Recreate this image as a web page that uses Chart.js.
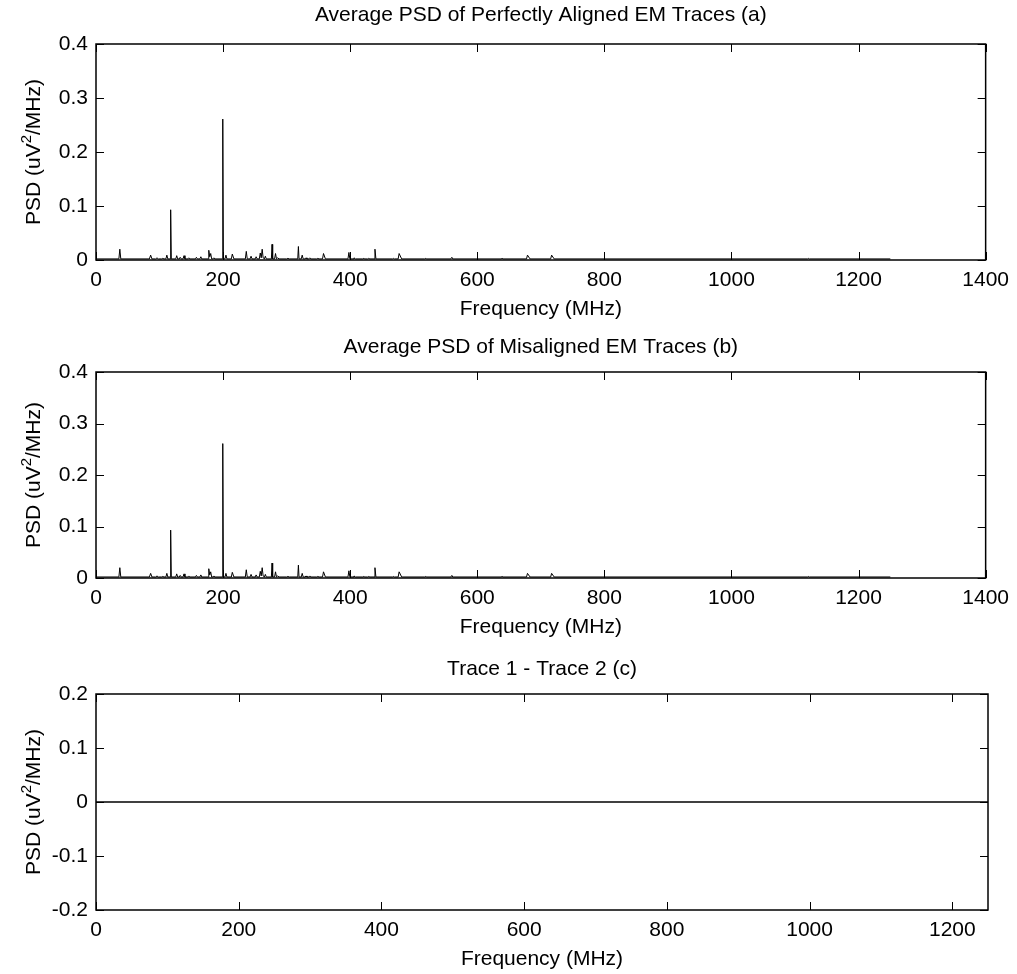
<!DOCTYPE html>
<html>
<head>
<meta charset="utf-8">
<title>Average PSD of EM Traces</title>
<script src="https://cdn.jsdelivr.net/npm/chart.js@4.4.1/dist/chart.umd.min.js"></script>
<style>
  body { margin: 0; background: #fff; width: 1017px; height: 974px; position: relative; overflow: hidden; }
  .panel { position: absolute; left: 0; width: 1017px; }
</style>
</head>
<body>
<div class="panel" style="top:0px;height:322px"><canvas id="chartA"></canvas></div>
<div class="panel" style="top:332px;height:308px"><canvas id="chartB"></canvas></div>
<div class="panel" style="top:654px;height:318px"><canvas id="chartC"></canvas></div>

<script>
// frequency points (MHz) of the spectrum
const freqMHz = [
  0, 36, 37.5, 39, 84, 86, 88, 94, 96, 98, 103, 105, 107,
  110, 111.5, 113, 116.5, 117.5, 118.5, 125.5, 127, 128.5,
  131, 132.5, 134, 137, 138.5, 140, 144.5, 146, 147.5,
  156.5, 158, 159.5, 163.5, 165, 166.5,
  176.5, 177.5, 179, 180.5, 182, 184, 185.5, 187,
  198.5, 199.5, 200.5, 203, 204.5, 206, 213, 214.5, 217,
  235, 236.5, 238, 242.5, 244, 245.5, 250.5, 252, 253.5,
  257, 258.5, 260, 261.5, 263, 265, 266.5, 268,
  276, 277, 278, 281, 282.5, 284, 286, 288, 300, 302, 304,
  317.5, 318.5, 319.5, 323, 324.5, 326, 329, 330.5, 332,
  335, 336.5, 338, 347.5, 349, 351, 356.5, 358, 361,
  396.5, 398, 399.5, 404.5, 406, 408, 420, 421.5, 423,
  427.5, 429, 431, 437.5, 439, 440.5, 466.5, 468, 469.5,
  475.5, 477, 481, 517.5, 519, 520.5, 558.5, 560, 561.5,
  637.5, 639, 640.5, 677.5, 679, 683, 715.5, 717, 721,
  1119.5, 1121, 1122.5, 1250
];

// (a) average PSD, perfectly aligned traces (uV^2/MHz)
const psdAligned = [
  0.002, 0.002, 0.020, 0.002, 0.002, 0.009, 0.002, 0.002, 0.004, 0.002, 0.002, 0.003, 0.002,
  0.002, 0.009, 0.002, 0.002, 0.093, 0.002, 0.002, 0.008, 0.002,
  0.002, 0.005, 0.002, 0.002, 0.008, 0.002, 0.002, 0.004, 0.002,
  0.002, 0.005, 0.002, 0.002, 0.006, 0.002,
  0.002, 0.018, 0.006, 0.012, 0.002, 0.002, 0.004, 0.002,
  0.002, 0.261, 0.002, 0.002, 0.009, 0.002, 0.002, 0.011, 0.002,
  0.002, 0.016, 0.002, 0.002, 0.007, 0.002, 0.002, 0.006, 0.002,
  0.002, 0.013, 0.004, 0.020, 0.004, 0.002, 0.007, 0.002,
  0.002, 0.029, 0.002, 0.002, 0.012, 0.002, 0.004, 0.002, 0.002, 0.003, 0.002,
  0.002, 0.025, 0.002, 0.002, 0.009, 0.002, 0.002, 0.004, 0.002,
  0.002, 0.004, 0.002, 0.002, 0.003, 0.002, 0.002, 0.012, 0.002,
  0.002, 0.014, 0.002, 0.002, 0.004, 0.002, 0.002, 0.003, 0.002,
  0.002, 0.003, 0.002, 0.002, 0.020, 0.002, 0.002, 0.003, 0.002,
  0.002, 0.012, 0.002, 0.002, 0.003, 0.002, 0.002, 0.005, 0.002,
  0.002, 0.003, 0.002, 0.002, 0.009, 0.002, 0.002, 0.009, 0.002,
  0.002, 0.003, 0.002, 0.002
];

// (b) misaligned traces: reads the same as (a) in the picture
const psdMisaligned = psdAligned.slice();

// (c) difference trace 1 - trace 2: flat zero
const freqDiff = [0, 1250];
const psdDiff = [0, 0];

const xTicksWide = { min: 0, max: 1400, step: 200 };
const xTicksDiff = { min: 0, max: 1250, step: 200 };
const yTicksPsd = { min: 0, max: 0.4, step: 0.1 };
const yTicksDiff = { min: -0.2, max: 0.2, step: 0.1 };

const FONT = "'Liberation Sans', Arial, Helvetica, sans-serif";
const FS = 21;

// matlab style box with inward ticks on all four sides
const boxTicks = {
  id: 'boxTicks',
  afterDatasetsDraw(chart) {
    const { ctx, chartArea: a, scales: { x, y } } = chart;
    ctx.save();
    ctx.strokeStyle = '#000';
    ctx.lineWidth = 1;
    ctx.beginPath();
    x.ticks.forEach(t => {
      const px = Math.round(x.getPixelForValue(t.value)) + 0.5;
      ctx.moveTo(px, a.bottom); ctx.lineTo(px, a.bottom - 8);
      ctx.moveTo(px, a.top); ctx.lineTo(px, a.top + 8);
    });
    y.ticks.forEach(t => {
      const py = Math.round(y.getPixelForValue(t.value)) + 0.5;
      ctx.moveTo(a.left, py); ctx.lineTo(a.left + 8, py);
      ctx.moveTo(a.right, py); ctx.lineTo(a.right - 8, py);
    });
    ctx.stroke();
    ctx.lineWidth = 1.5;
    ctx.strokeRect(a.left, a.top, a.right - a.left, a.bottom - a.top);
    ctx.restore();
  }
};

// title centred over the axes, y label with a real superscript
const panelText = {
  id: 'panelText',
  afterDraw(chart, args, opts) {
    const { ctx, chartArea: a } = chart;
    ctx.save();
    ctx.fillStyle = '#000';
    ctx.font = FS + 'px ' + FONT;
    ctx.textAlign = 'center';
    ctx.textBaseline = 'middle';
    ctx.fillText(opts.text, (a.left + a.right) / 2, a.top - opts.gap);

    const p1 = 'PSD (uV', p2 = '2', p3 = '/MHz)';
    const supFont = Math.round(FS * 0.7) + 'px ' + FONT;
    const w1 = ctx.measureText(p1).width, w3 = ctx.measureText(p3).width;
    ctx.font = supFont;
    const w2 = ctx.measureText(p2).width;
    const total = w1 + w2 + w3;
    ctx.translate(33, (a.top + a.bottom) / 2);
    ctx.rotate(-Math.PI / 2);
    ctx.textAlign = 'left';
    ctx.textBaseline = 'alphabetic';
    let sx = -total / 2;
    ctx.font = FS + 'px ' + FONT;
    ctx.fillText(p1, sx, 7);
    sx += w1;
    ctx.font = supFont;
    ctx.fillText(p2, sx, -2);
    sx += w2;
    ctx.font = FS + 'px ' + FONT;
    ctx.fillText(p3, sx, 7);
    ctx.restore();
  }
};

function makeChart(id, freqs, vals, title, xt, yt, padTop, gap, lw) {
  const pts = freqs.map((f, i) => ({ x: f, y: vals[i] }));
  return new Chart(document.getElementById(id), {
    type: 'line',
    data: {
      datasets: [{
        data: pts,
        borderColor: '#000',
        borderWidth: lw,
        pointRadius: 0,
        tension: 0,
        fill: false
      }]
    },
    options: {
      responsive: true,
      maintainAspectRatio: false,
      animation: false,
      layout: { padding: { left: 0, right: 29, top: padTop, bottom: 0 } },
      plugins: {
        legend: { display: false },
        tooltip: { enabled: false },
        title: { display: false },
        panelText: { text: title, gap: gap }
      },
      scales: {
        x: {
          type: 'linear',
          min: xt.min, max: xt.max,
          grid: { display: false, drawTicks: false },
          border: { display: false },
          ticks: {
            stepSize: xt.step, includeBounds: false, padding: 8,
            color: '#000', font: { family: FONT, size: FS }, maxRotation: 0,
            callback: v => String(v)
          },
          title: {
            display: true, text: 'Frequency (MHz)', color: '#000',
            font: { family: FONT, size: FS }, padding: { top: 0, bottom: 0 }
          },
          afterFit: s => { s.height = 62; }
        },
        y: {
          min: yt.min, max: yt.max,
          grid: { display: false, drawTicks: false },
          border: { display: false },
          ticks: {
            stepSize: yt.step, includeBounds: false, padding: 8,
            color: '#000', font: { family: FONT, size: FS },
            callback: v => (Math.abs(v) < 1e-9 ? '0' : v.toFixed(1))
          },
          title: { display: false },
          afterFit: s => { s.width = 96; }
        }
      }
    },
    plugins: [boxTicks, panelText]
  });
}

makeChart('chartA', freqMHz, psdAligned, 'Average PSD of Perfectly Aligned EM Traces (a)',
  xTicksWide, yTicksPsd, 44, 29, 1);
makeChart('chartB', freqMHz, psdMisaligned, 'Average PSD of Misaligned EM Traces (b)',
  xTicksWide, yTicksPsd, 40, 25, 1);
makeChart('chartC', freqDiff, psdDiff, 'Trace 1 - Trace 2 (c)',
  xTicksDiff, yTicksDiff, 40, 25, 1.5);
</script>
</body>
</html>
